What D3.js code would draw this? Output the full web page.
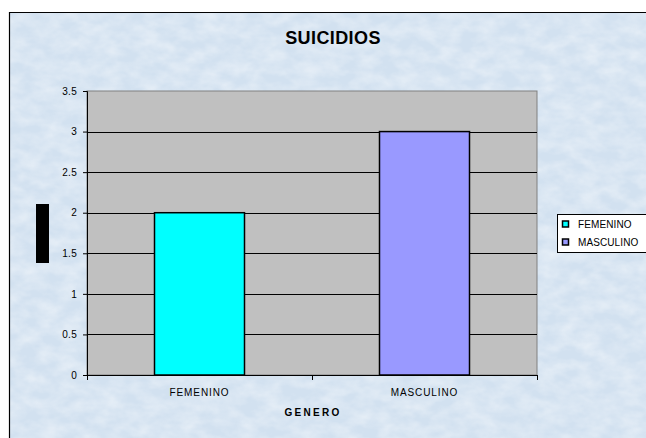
<!DOCTYPE html>
<html><head><meta charset="utf-8">
<script src="https://cdn.jsdelivr.net/npm/d3@7/dist/d3.min.js"></script>
<style>html,body{margin:0;padding:0;background:#fff;}svg{display:block;}</style>
</head><body>
<svg id="c" width="646" height="438"></svg>
<script>
const categories = ["FEMENINO", "MASCULINO"];
const values = [2, 3];
const colors = ["#00ffff", "#9999ff"];
const yTicks = [0, 0.5, 1, 1.5, 2, 2.5, 3, 3.5];
const title = "SUICIDIOS";
const xTitle = "GENERO";

const FONT = "Arial, 'Liberation Sans', sans-serif";
const svg = d3.select("#c");
const defs = svg.append("defs");
const f = defs.append("filter").attr("id","tex").attr("x",0).attr("y",0).attr("width","100%").attr("height","100%");
f.append("feTurbulence").attr("type","fractalNoise").attr("baseFrequency","0.05 0.08").attr("numOctaves",3).attr("seed",7).attr("result","n");
f.append("feColorMatrix").attr("in","n").attr("type","matrix")
 .attr("values","0 0 0 0 1  0 0 0 0 1  0 0 0 0 1  1.2 0 0 0 -0.35").attr("result","w");
f.append("feComposite").attr("in","w").attr("in2","SourceGraphic").attr("operator","in");

// background
svg.append("rect").attr("x",9).attr("y",12).attr("width",646).attr("height",438).attr("fill","#d2e1f0");
svg.append("rect").attr("x",9).attr("y",12).attr("width",646).attr("height",438).attr("fill","#ffffff").attr("filter","url(#tex)").attr("opacity",0.6);
svg.append("path").attr("d","M9.5,438 V12.5 H646").attr("fill","none").attr("stroke","#000").attr("stroke-width",1.2);

const m = {l:87, t:91, r:537, b:375};
const y = d3.scaleLinear().domain([0,3.5]).range([m.b, m.t]);
const x = d3.scaleBand().domain(categories).range([m.l, m.r]).padding(0);

svg.append("rect").attr("x",m.l).attr("y",m.t).attr("width",m.r-m.l).attr("height",m.b-m.t)
  .attr("fill","#c0c0c0").attr("stroke","#808080").attr("stroke-width",1);

// gridlines
svg.append("g").selectAll("line").data(yTicks.filter(d=>d>0 && d<3.5)).join("line")
  .attr("x1",m.l).attr("x2",m.r).attr("y1",d=>Math.round(y(d))+0.5).attr("y2",d=>Math.round(y(d))+0.5)
  .attr("stroke","#000").attr("stroke-width",1);

// bars (Excel gap width 150%)
const bw = x.bandwidth()/2.5;
svg.append("g").selectAll("rect").data(values).join("rect")
  .attr("x",(d,i)=>x(categories[i])+x.bandwidth()/2-bw/2)
  .attr("y",d=>y(d)).attr("width",bw).attr("height",d=>m.b-y(d))
  .attr("fill",(d,i)=>colors[i]).attr("stroke","#000").attr("stroke-width",1.5);

// y axis
const ya = svg.append("g").attr("transform",`translate(${m.l},0)`)
  .call(d3.axisLeft(y).tickValues(yTicks).tickSize(4).tickPadding(6).tickFormat(d=>String(d)));
ya.select(".domain").attr("stroke","#000");
ya.selectAll("line").attr("stroke","#000");
ya.selectAll("text").attr("font-family",FONT).attr("font-size",10).attr("fill","#000").attr("letter-spacing",0.3);

// x axis
const xa = svg.append("g").attr("transform",`translate(0,${m.b})`);
xa.append("line").attr("x1",m.l).attr("x2",m.r).attr("y1",0.5).attr("y2",0.5).attr("stroke","#000");
const bounds = [m.l].concat(categories.map(c=>x(c)+x.bandwidth()));
xa.selectAll("line.t").data(bounds).join("line").attr("class","t")
  .attr("x1",d=>Math.round(d)+0.5).attr("x2",d=>Math.round(d)+0.5).attr("y1",0).attr("y2",5).attr("stroke","#000");
xa.selectAll("text").data(categories).join("text")
  .attr("x",d=>x(d)+x.bandwidth()/2).attr("y",21).attr("text-anchor","middle")
  .attr("font-family",FONT).attr("font-size",10).attr("letter-spacing",0.9).text(d=>d);

// titles
svg.append("text").attr("x",333).attr("y",44).attr("text-anchor","middle")
  .attr("font-family",FONT).attr("font-weight","bold").attr("font-size",18).attr("letter-spacing",0.4).text(title);
svg.append("text").attr("x",(m.l+m.r)/2+1).attr("y",416).attr("text-anchor","middle")
  .attr("font-family",FONT).attr("font-weight","bold").attr("font-size",10)
  .attr("letter-spacing",2.3).text(xTitle);
// y-axis title rendered as a black block in the reference
svg.append("rect").attr("x",36).attr("y",204).attr("width",13).attr("height",59).attr("fill","#000");

// legend
const lg = svg.append("g");
lg.append("rect").attr("x",557.5).attr("y",214.5).attr("width",100).attr("height",38).attr("fill","#fff").attr("stroke","#000");
const li = lg.selectAll("g").data(categories).join("g").attr("transform",(d,i)=>`translate(562,${224.5+i*18})`);
li.append("rect").attr("x",0.5).attr("y",-3.5).attr("width",6).attr("height",6).attr("fill",(d,i)=>colors[i]).attr("stroke","#000").attr("stroke-width",1.5);
li.append("text").attr("x",16).attr("y",3.5).attr("font-family",FONT).attr("font-size",10).attr("letter-spacing",0.1).text(d=>d);
</script>
</body></html>
